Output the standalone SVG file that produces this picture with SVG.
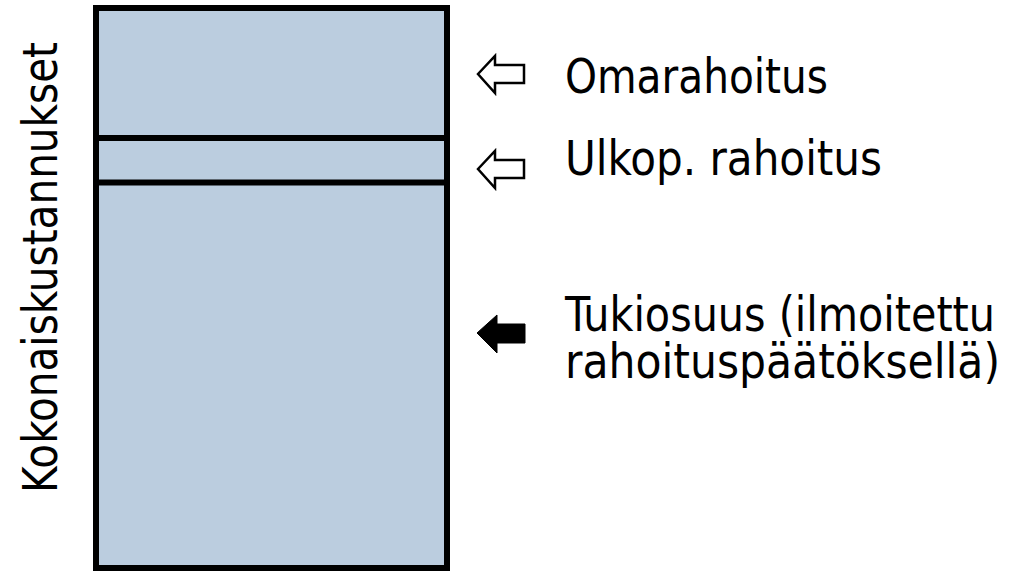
<svg xmlns="http://www.w3.org/2000/svg" width="1022" height="571" viewBox="0 0 1022 571">
<defs>
<style>
.lbl{font-family:"DejaVu Sans Condensed","DejaVu Sans","Liberation Sans",sans-serif;font-size:48px;fill:#000}
.bar{fill:#BBCDDF;stroke:#000;stroke-width:6}
.div{stroke:#000;stroke-width:6}
.hollow{fill:#fff;stroke:#000;stroke-width:2.5;stroke-linejoin:miter}
.solid{fill:#000;stroke:#000;stroke-width:1}
</style>
</defs>
<rect width="1022" height="571" fill="#fff"/>
<g id="bar">
<rect class="bar" x="96" y="8" width="351" height="560"/>
<line class="div" x1="96" y1="138" x2="447" y2="138"/>
<line class="div" x1="96" y1="182.5" x2="447" y2="182.5"/>
</g>
<g id="axis-label">
<text class="lbl" transform="translate(57,493) rotate(-90)" textLength="451" lengthAdjust="spacingAndGlyphs">Kokonaiskustannukset</text>
</g>
<g id="connectors">
<polygon class="hollow" points="478,74 495,56 495,65 524,65 524,83 495,83 495,93"/>
<polygon class="hollow" points="478,169 495,151 495,160 524,160 524,178 495,178 495,188"/>
<polygon class="solid" points="477,333 497,315 497,324 525,324 525,343 497,343 497,353"/>
</g>
<g id="omarahoitus">
<text class="lbl" x="565" y="93" textLength="263" lengthAdjust="spacingAndGlyphs">Omarahoitus</text>
</g>
<g id="ulkop">
<text class="lbl" x="565" y="175" textLength="317" lengthAdjust="spacingAndGlyphs">Ulkop. rahoitus</text>
</g>
<g id="tukiosuus">
<text class="lbl" x="565" y="331" textLength="430" lengthAdjust="spacingAndGlyphs">Tukiosuus (ilmoitettu</text>
<text class="lbl" x="565" y="378" textLength="435" lengthAdjust="spacingAndGlyphs">rahoituspäätöksellä)</text>
</g>
</svg>
